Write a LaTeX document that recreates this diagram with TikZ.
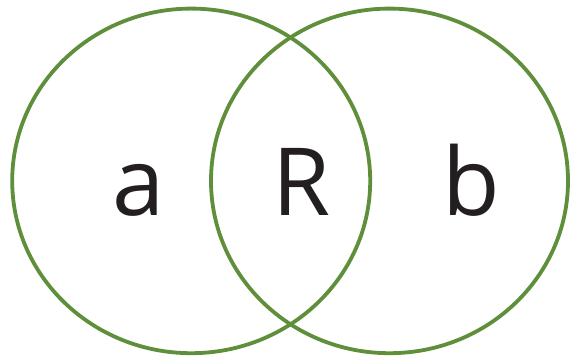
\documentclass[tikz,border=0pt]{standalone}
\usepackage{fontspec}
\setmainfont{Open Sans}
\definecolor{vgreen}{RGB}{95,143,58}
\definecolor{vtext}{RGB}{35,31,32}
\begin{document}
\begin{tikzpicture}[x=1pt,y=1pt,
  ring/.style={draw=vgreen,line width=3.8pt},
  lbl/.style={text=vtext,font=\fontsize{94}{94}\selectfont,anchor=base,inner sep=0pt}]
\useasboundingbox (0,0) rectangle (570,361);
\draw[ring] (191.2,180.1) ellipse [x radius=179, y radius=172.3];
\draw[ring] (389.5,180.1) ellipse [x radius=178.5, y radius=172.3];
\node[lbl] (a) at (138.5,145) {a};
\node[lbl] (R) at (301.5,145) {R};
\node[lbl] (b) at (471,145) {b};
\end{tikzpicture}
\end{document}
